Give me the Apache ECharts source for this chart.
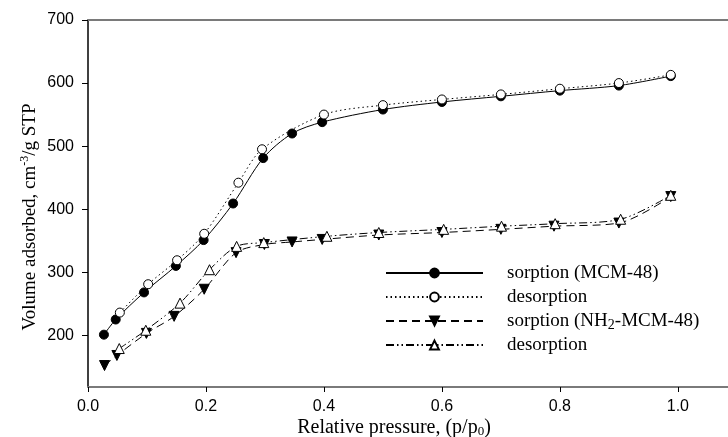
<!DOCTYPE html>
<html>
<head>
<meta charset="utf-8">
<script src="https://cdn.jsdelivr.net/npm/echarts@6/dist/echarts.min.js"></script>
<style>html,body{margin:0;padding:0;background:#fff;}#c{width:728px;height:437px;}</style>
</head>
<body>
<div id="c"></div>
<script>
// MCM-48 sorption (filled circles)
const mcmSorpX = [0.027, 0.047, 0.095, 0.149, 0.196, 0.246, 0.297, 0.346, 0.397, 0.50, 0.60, 0.70, 0.80, 0.90, 0.988];
const mcmSorpY = [201, 225, 268, 310, 351, 409, 481, 520, 538, 558, 570, 579, 588, 596, 611];
// MCM-48 desorption (open circles)
const mcmDesX = [0.054, 0.102, 0.151, 0.197, 0.255, 0.295, 0.40, 0.50, 0.60, 0.70, 0.80, 0.90, 0.988];
const mcmDesY = [236, 281, 319, 361, 442, 495, 550, 565, 574, 582, 591, 600, 613];
// NH2-MCM-48 sorption (filled down triangles)
const nhSorpX = [0.028, 0.049, 0.099, 0.146, 0.197, 0.251, 0.299, 0.346, 0.397, 0.493, 0.60, 0.70, 0.79, 0.90, 0.988];
const nhSorpY = [152, 168, 203, 230, 273, 331, 344, 348, 352, 359, 363, 368, 373, 378, 420];
// NH2-MCM-48 desorption (open up triangles)
const nhDesX = [0.053, 0.098, 0.156, 0.206, 0.252, 0.298, 0.405, 0.493, 0.603, 0.701, 0.792, 0.903, 0.988];
const nhDesY = [179, 208, 251, 304, 341, 347, 357, 363, 368, 373, 377, 384, 422];
// ticks
const xTicks = [0.0, 0.2, 0.4, 0.6, 0.8, 1.0];
const yTicks = [200, 300, 400, 500, 600, 700];

const pairs = (xs, ys) => xs.map((x, i) => [x, ys[i]]);
const SERIF = 'Liberation Serif';
const SANS = 'Liberation Sans';

const legendText = {
  's1': 'sorption (MCM-48)',
  'd1': 'desorption',
  's2': 'sorption (NH{sub|2}-MCM-48)',
  'd2': 'desorption'
};

const chart = echarts.init(document.getElementById('c'), null, {renderer: 'canvas'});
chart.setOption({
  animation: false,
  backgroundColor: '#fff',
  grid: {left: 88, top: 20, right: 0, bottom: 50, containLabel: false},
  xAxis: [{
    type: 'value', min: 0, max: 1.085,
    axisLine: {show: true, lineStyle: {color: '#7a7a7a', width: 2}},
    axisTick: {show: true, inside: false, length: 5, lineStyle: {color: '#000', width: 1}, customValues: xTicks},
    axisLabel: {customValues: xTicks, formatter: v => v.toFixed(1), fontFamily: SANS, fontSize: 16, color: '#000', margin: 12},
    splitLine: {show: false}
  }, {
    type: 'value', min: 0, max: 1.085, position: 'top',
    axisLine: {show: true, lineStyle: {color: '#7a7a7a', width: 2}},
    axisTick: {show: false}, axisLabel: {show: false}, splitLine: {show: false}
  }],
  yAxis: {
    type: 'value', min: 118, max: 700,
    axisLine: {show: true, lineStyle: {color: '#000', width: 1.5}},
    axisTick: {show: true, inside: false, length: 6, lineStyle: {color: '#000', width: 1}, customValues: yTicks},
    axisLabel: {customValues: yTicks, fontFamily: SANS, fontSize: 16, color: '#000', margin: 14},
    splitLine: {show: false}
  },
  legend: {
    left: 380, top: 257, orient: 'vertical',
    itemWidth: 97, itemHeight: 11, itemGap: 2,
    data: ['s1', 'd1', 's2', 'd2'],
    formatter: n => legendText[n],
    textStyle: {
      fontFamily: SERIF, fontSize: 19, color: '#000', lineHeight: 22, padding: [0, 0, 0, 19],
      rich: {sub: {fontFamily: SERIF, fontSize: 14, verticalAlign: 'bottom', lineHeight: 22, padding: [8, 0, 0, 0]}}
    }
  },
  graphic: [{
    type: 'text', x: 30, y: 217, rotation: Math.PI / 2,
    style: {
      text: 'Volume adsorbed, cm{sup|-3}/g STP',
      font: '19px "Liberation Serif"', fill: '#000', align: 'center', verticalAlign: 'middle',
      rich: {sup: {font: '12px "Liberation Serif"', fill: '#000', padding: [0, 0, 10, 0]}}
    }
  }, {
    type: 'text', x: 394, y: 428,
    style: {
      text: 'Relative pressure, (p/p{sub|0})',
      font: '20px "Liberation Serif"', fill: '#000', align: 'center', verticalAlign: 'middle',
      rich: {sub: {font: '13px "Liberation Serif"', fill: '#000', padding: [8, 0, 0, 0]}}
    }
  }],
  series: [{
    name: 's1', type: 'line', data: pairs(mcmSorpX, mcmSorpY), smooth: 0.3,
    symbol: 'circle', symbolSize: 9,
    lineStyle: {color: '#000', width: 1, type: 'solid'},
    itemStyle: {color: '#000', borderColor: '#000', borderWidth: 1}
  }, {
    name: 'd1', type: 'line', data: pairs(mcmDesX, mcmDesY), smooth: 0.3,
    symbol: 'circle', symbolSize: 9,
    lineStyle: {color: '#000', width: 1, type: [1.5, 3]},
    itemStyle: {color: '#fff', borderColor: '#000', borderWidth: 1}
  }, {
    name: 's2', type: 'line', data: pairs(nhSorpX, nhSorpY), smooth: 0.3,
    symbol: 'triangle', symbolSize: 10, symbolRotate: 180,
    lineStyle: {color: '#000', width: 1, type: [8, 5]},
    itemStyle: {color: '#000', borderColor: '#000', borderWidth: 1}
  }, {
    name: 'd2', type: 'line', data: pairs(nhDesX, nhDesY), smooth: 0.3,
    symbol: 'triangle', symbolSize: 10,
    lineStyle: {color: '#000', width: 1, type: [8, 3, 1.5, 3, 1.5, 3]},
    itemStyle: {color: '#fff', borderColor: '#000', borderWidth: 1}
  }]
});
</script>
</body>
</html>
